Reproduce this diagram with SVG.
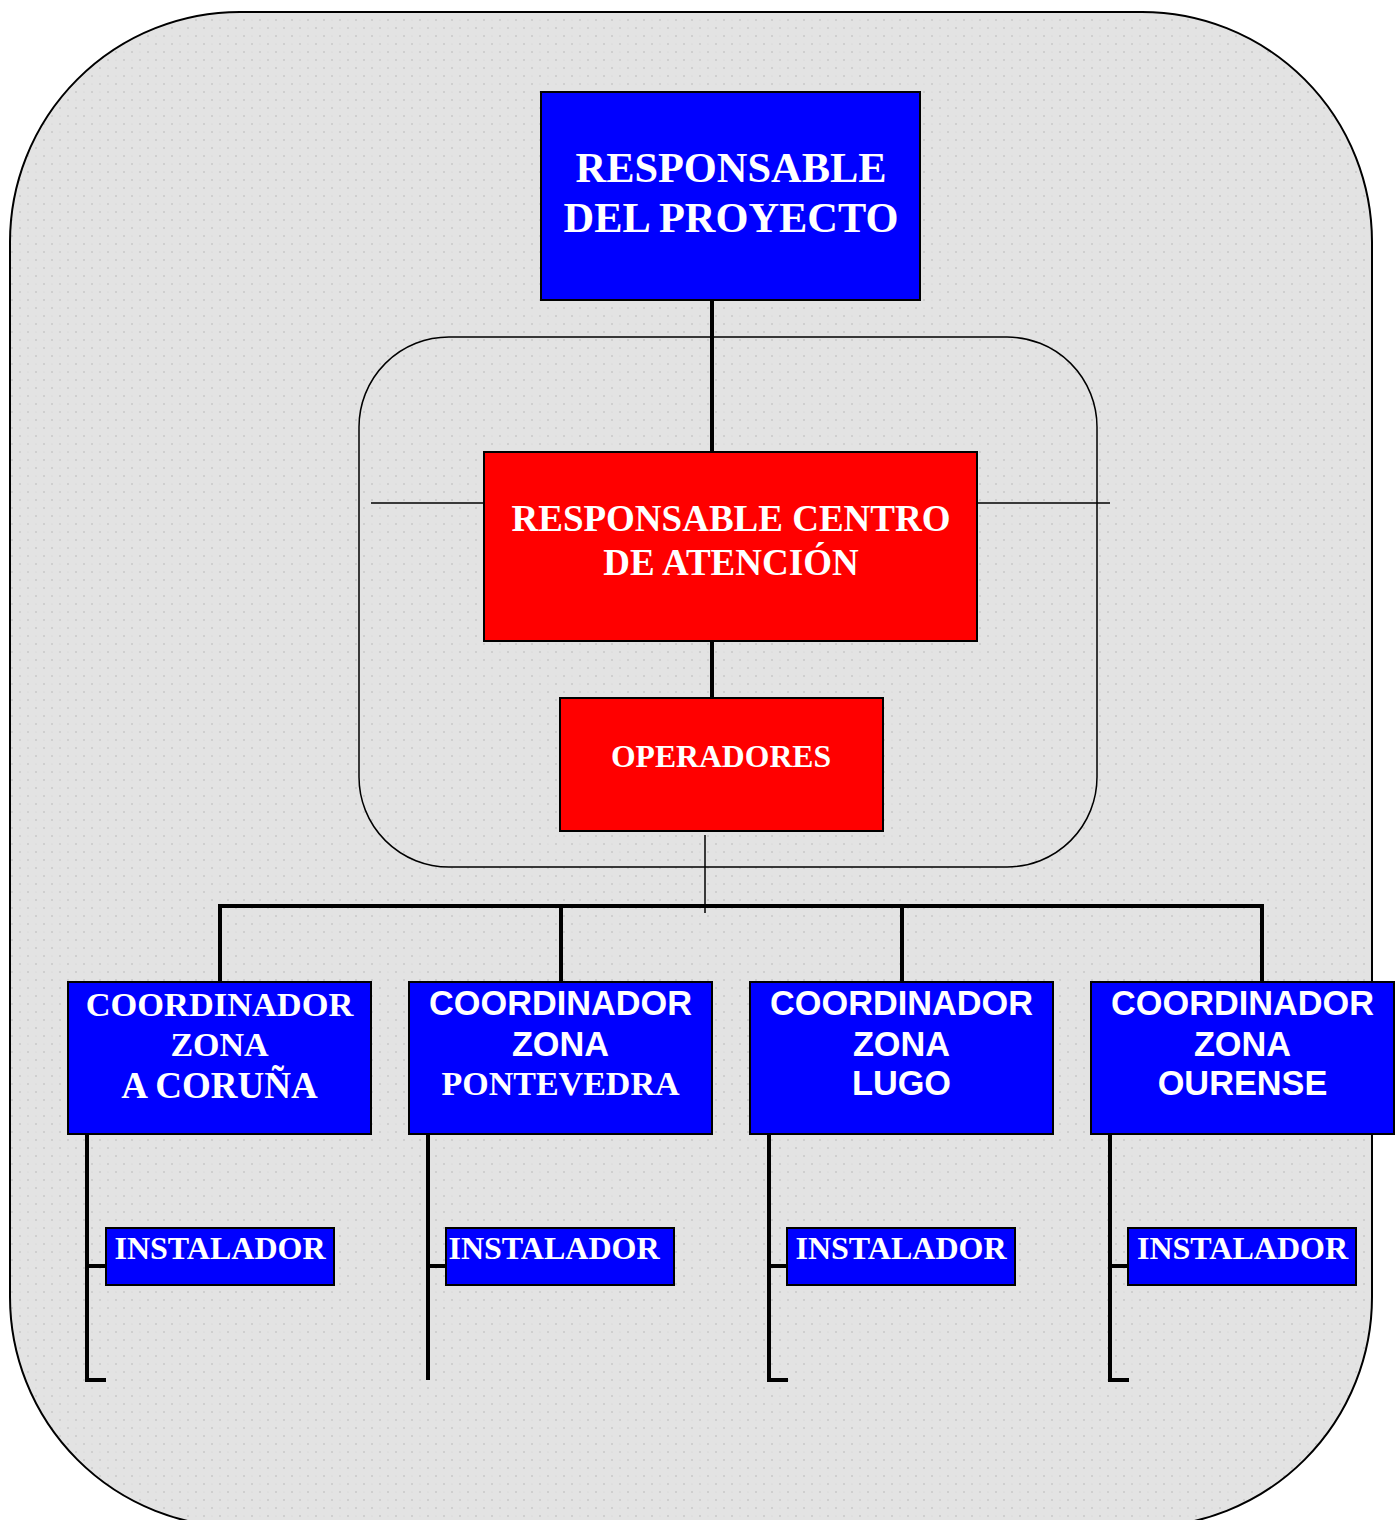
<svg xmlns="http://www.w3.org/2000/svg" width="1399" height="1520" viewBox="0 0 1399 1520">
  <defs>
    <pattern id="dots" width="16" height="16" patternUnits="userSpaceOnUse">
      <rect width="16" height="16" fill="#e3e3e3"/>
      <circle cx="4" cy="4" r="0.9" fill="#c6c6c6"/>
      <circle cx="12" cy="12" r="0.9" fill="#c6c6c6"/>
      <circle cx="12" cy="4" r="0.6" fill="#d2d2d2"/>
      <circle cx="4" cy="12" r="0.6" fill="#d2d2d2"/>
    </pattern>
    <style>
      .blue { fill: #0000ff; stroke: #000; stroke-width: 2; }
      .red { fill: #ff0000; stroke: #000; stroke-width: 2; }
      .serif { font-family: "Liberation Serif", "Times New Roman", serif; font-weight: bold; fill: #fff; text-anchor: middle; }
      .sans { font-family: "Liberation Sans", Arial, sans-serif; font-weight: bold; fill: #fff; text-anchor: middle; }
      .thick { stroke: #000; stroke-width: 4; fill: none; }
      .thin { stroke: #000; stroke-width: 1.5; fill: none; }
    </style>
  </defs>

  <!-- outer frame -->
  <path d="M 240 12 L 1142 12 A 230 230 0 0 1 1372 242 L 1372 1297 A 230 230 0 0 1 1142 1527 L 240 1527 A 230 230 0 0 1 10 1297 L 10 242 A 230 230 0 0 1 240 12 Z" fill="url(#dots)" stroke="#000" stroke-width="2"/>

  <!-- service centre frame -->
  <rect x="359" y="337" width="738" height="530" rx="90" ry="90" fill="none" stroke="#000" stroke-width="1.5"/>

  <g id="connectors">
    <line class="thick" x1="712" y1="300" x2="712" y2="452"/>
    <line class="thick" x1="712" y1="641" x2="712" y2="698"/>
    <line class="thin" x1="371" y1="503" x2="484" y2="503"/>
    <line class="thin" x1="977" y1="503" x2="1110" y2="503"/>
    <line class="thin" x1="705" y1="835" x2="705" y2="913"/>
    <polyline class="thick" points="220,982 220,906 1262,906 1262,982"/>
    <line class="thick" x1="561" y1="906" x2="561" y2="982"/>
    <line class="thick" x1="902" y1="906" x2="902" y2="982"/>
    <!-- branches to installers -->
    <polyline class="thick" points="87,1134 87,1380 106,1380"/>
    <line class="thick" x1="87" y1="1266" x2="106" y2="1266"/>
    <line class="thick" x1="428" y1="1134" x2="428" y2="1380"/>
    <line class="thick" x1="428" y1="1266" x2="446" y2="1266"/>
    <polyline class="thick" points="769,1134 769,1380 788,1380"/>
    <line class="thick" x1="769" y1="1266" x2="787" y2="1266"/>
    <polyline class="thick" points="1110,1134 1110,1380 1129,1380"/>
    <line class="thick" x1="1110" y1="1266" x2="1128" y2="1266"/>
  </g>

  <g id="responsable-proyecto">
    <rect class="blue" x="541" y="92" width="379" height="208"/>
    <text class="serif" x="731" y="182" font-size="42.4">RESPONSABLE</text>
    <text class="serif" x="731" y="232" font-size="42.4">DEL PROYECTO</text>
  </g>

  <g id="responsable-centro">
    <rect class="red" x="484" y="452" width="493" height="189"/>
    <text class="serif" x="731" y="531" font-size="37">RESPONSABLE CENTRO</text>
    <text class="serif" x="731" y="575" font-size="37">DE ATENCIÓN</text>
  </g>

  <g id="operadores">
    <rect class="red" x="560" y="698" width="323" height="133"/>
    <text class="serif" x="721" y="767" font-size="31.7">OPERADORES</text>
  </g>

  <g id="coord-coruna">
    <rect class="blue" x="68" y="982" width="303" height="152"/>
    <text class="serif" x="219.5" y="1016" font-size="34.4">COORDINADOR</text>
    <text class="serif" x="219.5" y="1056" font-size="34">ZONA</text>
    <text class="serif" x="219.5" y="1098" font-size="37">A CORUÑA</text>
  </g>

  <g id="coord-pontevedra">
    <rect class="blue" x="409" y="982" width="303" height="152"/>
    <text class="sans" x="560.5" y="1015" font-size="34.3">COORDINADOR</text>
    <text class="sans" x="560.5" y="1056" font-size="34.3">ZONA</text>
    <text class="serif" x="560.5" y="1095" font-size="34">PONTEVEDRA</text>
  </g>

  <g id="coord-lugo">
    <rect class="blue" x="750" y="982" width="303" height="152"/>
    <text class="sans" x="901.5" y="1015" font-size="34.3">COORDINADOR</text>
    <text class="sans" x="901.5" y="1056" font-size="34.3">ZONA</text>
    <text class="sans" x="901.5" y="1095" font-size="34.3">LUGO</text>
  </g>

  <g id="coord-ourense">
    <rect class="blue" x="1091" y="982" width="303" height="152"/>
    <text class="sans" x="1242.5" y="1015" font-size="34.3">COORDINADOR</text>
    <text class="sans" x="1242.5" y="1056" font-size="34.3">ZONA</text>
    <text class="sans" x="1242.5" y="1095" font-size="34.3">OURENSE</text>
  </g>

  <g id="instalador-1">
    <rect class="blue" x="106" y="1228" width="228" height="57"/>
    <text class="serif" x="220" y="1259" font-size="32">INSTALADOR</text>
  </g>
  <g id="instalador-2">
    <rect class="blue" x="446" y="1228" width="228" height="57"/>
    <text class="serif" x="554" y="1259" font-size="32">INSTALADOR</text>
  </g>
  <g id="instalador-3">
    <rect class="blue" x="787" y="1228" width="228" height="57"/>
    <text class="serif" x="901" y="1259" font-size="32">INSTALADOR</text>
  </g>
  <g id="instalador-4">
    <rect class="blue" x="1128" y="1228" width="228" height="57"/>
    <text class="serif" x="1242.5" y="1259" font-size="32">INSTALADOR</text>
  </g>
</svg>
